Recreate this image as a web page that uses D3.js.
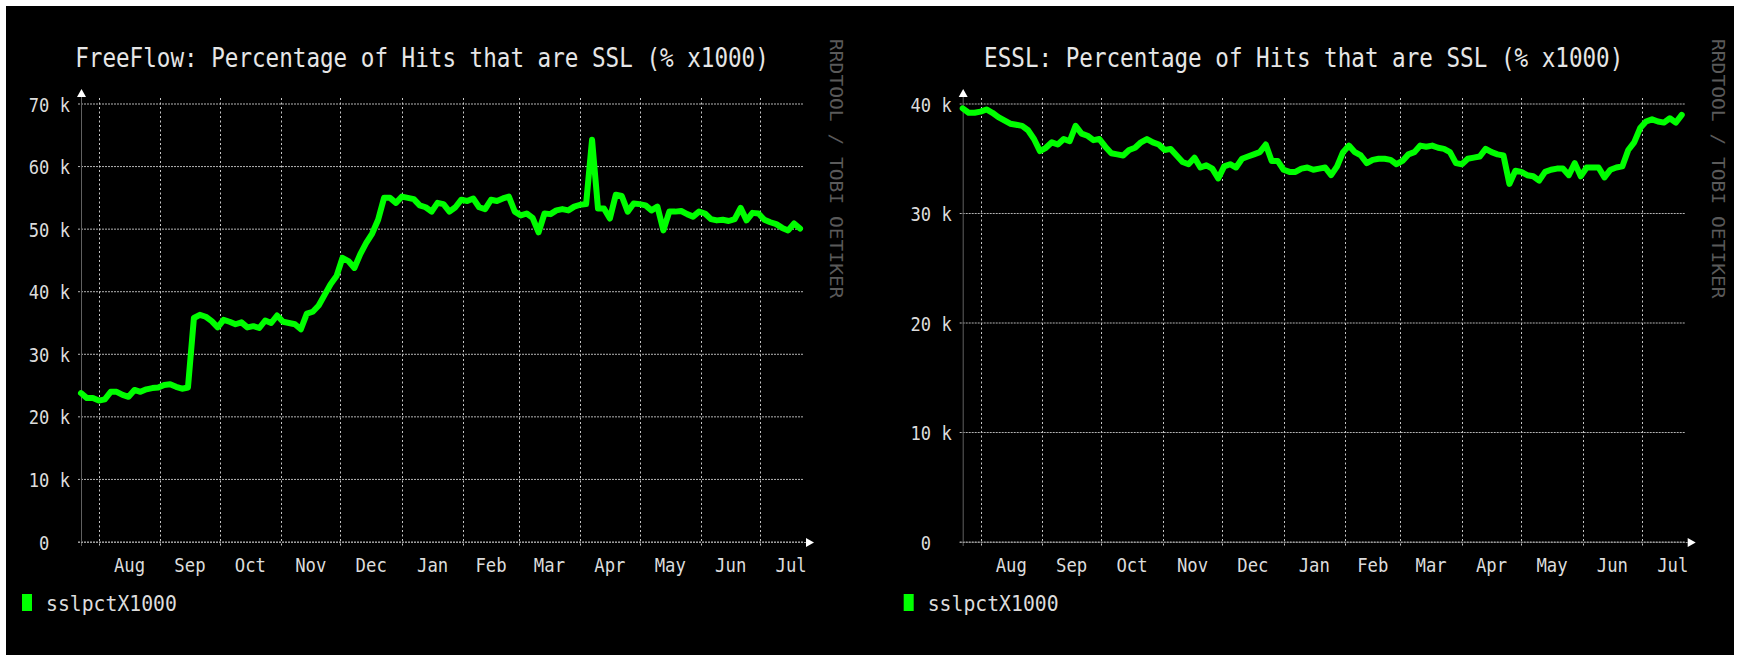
<!DOCTYPE html>
<html>
<head>
<meta charset="utf-8">
<script src="https://cdn.jsdelivr.net/npm/d3@7"></script>
<style>
body { margin: 0; background: #fff; }
svg text { font-family: "DejaVu Sans Mono", monospace; }
</style>
</head>
<body>
<svg width="1739" height="661"></svg>
<script>
// rrd style series: one sample every 3 days from the start date
const startDate = new Date(2013, 6, 23);
const stepDays = 3;

const freeflowValues = [
  23800, 23000, 23000, 22600, 22800, 24000, 24000, 23500, 23200, 24300,
  24000, 24400, 24600, 24700, 25100, 25200, 24800, 24500, 24700, 35800,
  36300, 36000, 35300, 34300, 35500, 35200, 34800, 35100, 34300, 34500,
  34200, 35400, 35000, 36200, 35200, 35000, 34800, 34000, 36500, 36800,
  37800, 39500, 41200, 42500, 45400, 44900, 43800, 46000, 47800, 49300,
  51500, 55000, 55000, 54200, 55200, 55000, 54800, 53800, 53500, 52800,
  54200, 54000, 52800, 53500, 54700, 54500, 54900, 53500, 53200, 54700,
  54500, 54900, 55200, 52800, 52200, 52500, 51800, 49500, 52500, 52400,
  53000, 53200, 53000, 53600, 53900, 54000, 64300, 53300, 53300, 51700,
  55500, 55300, 52800, 54100, 54000, 53800, 53000, 53600, 49800, 52800,
  52800, 52900, 52400, 52000, 52800, 52500, 51600, 51400, 51500, 51300,
  51600, 53400, 51400, 52600, 52500, 51500, 51100, 50800, 50200, 49800,
  50900, 50100
];

const esslValues = [
  39600, 39200, 39200, 39300, 39500, 39200, 38800, 38500, 38200, 38100,
  38000, 37600, 36800, 35700, 36000, 36500, 36300, 36800, 36600, 38000,
  37300, 37100, 36700, 36800, 36100, 35500, 35400, 35300, 35800, 36000,
  36500, 36800, 36500, 36300, 35800, 35900, 35300, 34700, 34500, 35100,
  34200, 34400, 34100, 33200, 34300, 34500, 34200, 35000, 35200, 35400,
  35600, 36300, 34800, 34800, 34000, 33800, 33800, 34100, 34200, 34000,
  34100, 34200, 33500, 34300, 35600, 36200, 35600, 35300, 34600, 34900,
  35000, 35000, 34900, 34500, 34800, 35400, 35600, 36200, 36100, 36200,
  36000, 35900, 35600, 34600, 34500, 35000, 35100, 35200, 35900, 35600,
  35400, 35300, 32700, 33900, 33800, 33500, 33400, 33000, 33800, 34000,
  34100, 34100, 33500, 34600, 33400, 34200, 34200, 34200, 33300, 34000,
  34200, 34300, 35800, 36500, 37800, 38400, 38600, 38400, 38300, 38700,
  38300, 39000
];

const monthLabels = ["Aug", "Sep", "Oct", "Nov", "Dec", "Jan", "Feb", "Mar", "Apr", "May", "Jun", "Jul"];
const freeflowTicks = [0, 10000, 20000, 30000, 40000, 50000, 60000, 70000];
const esslTicks = [0, 10000, 20000, 30000, 40000];
const legendLabel = "sslpctX1000";
const watermark = "RRDTOOL / TOBI OETIKER";

const svg = d3.select("svg");
const W = 1739, H = 661;

svg.append("rect").attr("width", W).attr("height", H).attr("fill", "#fff");
svg.append("rect").attr("x", 6).attr("y", 6).attr("width", 1728).attr("height", 649).attr("fill", "#000");

// squeeze the mono font to the narrow rrdtool look
function fit(sel, charW) {
  sel.each(function() {
    const t = this.textContent;
    this.setAttribute("textLength", t.length * charW);
    this.setAttribute("lengthAdjust", "spacingAndGlyphs");
  });
  return sel;
}

function drawChart(left, title, values, ticks) {
  const plotW = 723, top = 104, bottom = 542;
  const g = svg.append("g");

  const x = d3.scaleTime()
    .domain([startDate, d3.timeDay.offset(startDate, 365)])
    .range([left, left + plotW]);
  const y = d3.scaleLinear()
    .domain([0, d3.max(ticks)])
    .range([bottom, top]);

  const months = d3.timeMonth.range(d3.timeMonth.ceil(startDate), x.domain()[1]);

  // horizontal grid
  g.selectAll(".hgrid").data(ticks).join("line")
    .attr("x1", left - 3).attr("x2", left + plotW)
    .attr("y1", d => y(d)).attr("y2", d => y(d))
    .attr("stroke", "#b4b4b4").attr("stroke-width", 1)
    .attr("stroke-dasharray", "2,1");

  // vertical grid at month starts
  g.selectAll(".vgrid").data(months).join("line")
    .attr("x1", d => Math.round(x(d)) + 0.5).attr("x2", d => Math.round(x(d)) + 0.5)
    .attr("y1", top - 6).attr("y2", bottom + 4)
    .attr("stroke", "#c8c8c8").attr("stroke-width", 1)
    .attr("stroke-dasharray", "2,2.5");

  // axes
  g.append("line")
    .attr("x1", left + 0.5).attr("x2", left + 0.5)
    .attr("y1", bottom + 4).attr("y2", top - 8)
    .attr("stroke", "#606060").attr("stroke-width", 1);
  g.append("line")
    .attr("x1", left - 3).attr("x2", left + plotW + 2)
    .attr("y1", bottom + 0.5).attr("y2", bottom + 0.5)
    .attr("stroke", "#9a9a9a").attr("stroke-width", 1)
    .attr("stroke-dasharray", "2,1");
  g.append("path")
    .attr("d", `M${left + 0.5},${top - 15}L${left - 4},${top - 7}L${left + 5},${top - 7}Z`)
    .attr("fill", "#fff");
  g.append("path")
    .attr("d", `M${left + plotW + 10},${bottom + 0.5}L${left + plotW + 2},${bottom - 4}L${left + plotW + 2},${bottom + 5}Z`)
    .attr("fill", "#fff");

  // y labels
  const yl = g.selectAll(".ylab").data(ticks).join("text")
    .attr("x", d => d === 0 ? left - 11 - 2 * 10.3 : left - 11)
    .attr("y", d => y(d) + 7.5)
    .attr("text-anchor", "end")
    .attr("font-size", 20)
    .attr("fill", "#dcdcdc")
    .text(d => d === 0 ? "0" : (d / 1000) + " k");
  fit(yl, 10.3);

  // month labels, centred in the month
  const ml = g.selectAll(".mlab").data(months).join("text")
    .attr("x", d => (x(d) + x(d3.timeMonth.offset(d, 1))) / 2)
    .attr("y", bottom + 30)
    .attr("text-anchor", "middle")
    .attr("font-size", 20)
    .attr("fill", "#dcdcdc")
    .text((d, i) => monthLabels[i]);
  fit(ml, 10.4);

  // data line
  const data = values.map((v, i) => ({ date: d3.timeDay.offset(startDate, i * stepDays), value: v }));
  const line = d3.line()
    .x(d => x(d.date))
    .y(d => y(d.value));
  g.append("path")
    .attr("d", line(data))
    .attr("fill", "none")
    .attr("stroke", "#00ff00")
    .attr("stroke-width", 6)
    .attr("stroke-linejoin", "round")
    .attr("stroke-linecap", "round");

  // title
  const t = g.append("text")
    .attr("x", left + 341).attr("y", 67)
    .attr("text-anchor", "middle")
    .attr("font-size", 26)
    .attr("fill", "#e6e6e6")
    .text(title);
  fit(t, 13.6);

  // watermark
  const wm = g.append("text")
    .attr("transform", `translate(${left + 749},39) rotate(90)`)
    .attr("font-size", 17)
    .attr("fill", "#5a5a5a")
    .text(watermark);
  fit(wm, 11.8);

  // legend
  g.append("rect")
    .attr("x", left - 59).attr("y", 594)
    .attr("width", 10).attr("height", 17)
    .attr("fill", "#00ff00");
  const lg = g.append("text")
    .attr("x", left - 35).attr("y", 611)
    .attr("font-size", 22)
    .attr("fill", "#dcdcdc")
    .text(legendLabel);
  fit(lg, 11.9);
}

drawChart(81, "FreeFlow: Percentage of Hits that are SSL (% x1000)", freeflowValues, freeflowTicks);
drawChart(962.7, "ESSL: Percentage of Hits that are SSL (% x1000)", esslValues, esslTicks);
</script>
</body>
</html>
